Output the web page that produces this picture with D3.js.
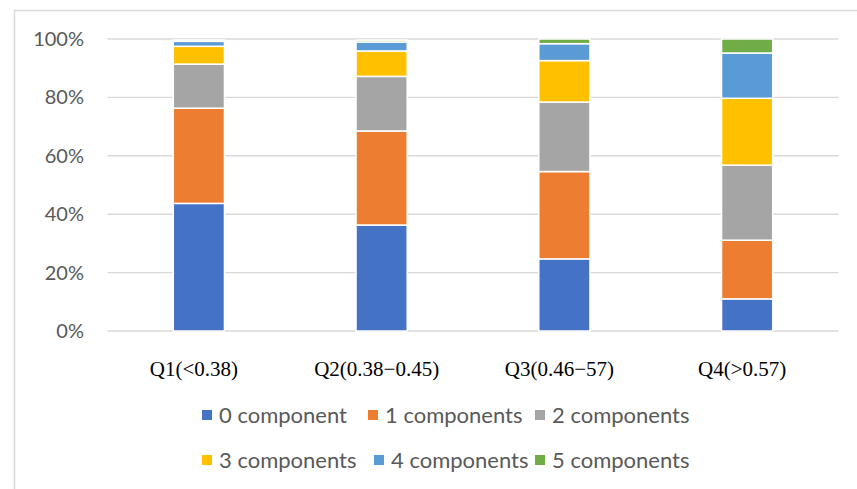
<!DOCTYPE html>
<html>
<head>
<meta charset="utf-8">
<script src="https://cdn.jsdelivr.net/npm/d3@7"></script>
<style>
  html, body { margin: 0; padding: 0; background: #fff; }
  svg { display: block; }
</style>
</head>
<body>
<div id="chart"></div>
<script>
// Quartile groups along the x axis
const categories = ["Q1(<0.38)", "Q2(0.38\u22120.45)", "Q3(0.46\u221257)", "Q4(>0.57)"];

// Share (%) of each group by number of components
const seriesNames = ["0 component", "1 components", "2 components", "3 components", "4 components", "5 components"];
const comp0 = [43.7, 36.3, 24.7, 11.0];
const comp1 = [32.6, 32.2, 29.9, 20.1];
const comp2 = [15.1, 18.7, 23.8, 25.7];
const comp3 = [6.1, 8.7, 14.2, 22.9];
const comp4 = [1.7, 3.1, 5.8, 15.5];
const comp5 = [0.5, 0.6, 1.6, 4.8];
const seriesColors = ["#4472C4", "#ED7D31", "#A5A5A5", "#FFC000", "#5B9BD5", "#70AD47"];

// Axis ticks
const yTicks = [0, 20, 40, 60, 80, 100];

const W = 857, H = 489;
const seriesValues = [comp0, comp1, comp2, comp3, comp4, comp5];

// Rows for d3.stack
const rows = categories.map((c, i) => {
  const r = { cat: c };
  seriesNames.forEach((s, k) => { r[s] = seriesValues[k][i]; });
  return r;
});
const stacked = d3.stack().keys(seriesNames)(rows);

const svg = d3.select("#chart").append("svg")
  .attr("width", W).attr("height", H);

// Chart frame
svg.append("rect")
  .attr("x", 14.5).attr("y", 10.5)
  .attr("width", W + 20).attr("height", H + 20)
  .attr("fill", "none").attr("stroke", "#d9d9d9").attr("stroke-width", 1.5);

const x = d3.scaleBand().domain(categories)
  .range([107.5, 838.5]).paddingInner(0.72).paddingOuter(0.36);
const y = d3.scaleLinear().domain([0, 100]).range([331, 39]);

// Gridlines
svg.append("g").selectAll("line").data(yTicks).join("line")
  .attr("x1", 107.5).attr("x2", 838.5)
  .attr("y1", d => y(d)).attr("y2", d => y(d))
  .attr("stroke", "#d9d9d9").attr("stroke-width", 1.4);

// Y axis labels
const yAxis = svg.append("g").attr("transform", "translate(84,0)")
  .call(d3.axisLeft(y).tickValues(yTicks).tickFormat(d => d + "%").tickSize(0).tickPadding(0));
yAxis.select(".domain").remove();
yAxis.selectAll("text")
  .attr("font-family", "Lato, 'Open Sans', sans-serif")
  .attr("font-size", 20).attr("fill", "#595959");

// Stacked bars
svg.append("g").selectAll("g").data(stacked).join("g")
  .attr("fill", (d, i) => seriesColors[i])
  .selectAll("rect").data(d => d).join("rect")
  .attr("x", d => x(d.data.cat))
  .attr("width", x.bandwidth())
  .attr("y", d => y(d[1]))
  .attr("height", d => y(d[0]) - y(d[1]))
  .attr("stroke", "#fff").attr("stroke-width", 1.5);

// X axis labels
const xAxis = svg.append("g").attr("transform", "translate(-5,331)")
  .call(d3.axisBottom(x).tickSize(0).tickPadding(0));
xAxis.select(".domain").remove();
xAxis.selectAll("text")
  .attr("dy", null).attr("y", 45)
  .attr("font-family", "'Liberation Serif', 'Times New Roman', serif")
  .attr("font-size", 21).attr("fill", "#000");

// Legend: two rows of three entries
const legendX = [[202, 368, 535], [202, 374, 535]];
const legendY = [415, 460];
const legend = svg.append("g").selectAll("g").data(seriesNames).join("g")
  .attr("transform", (d, i) => `translate(${legendX[Math.floor(i / 3)][i % 3]},${legendY[Math.floor(i / 3)]})`);
legend.append("rect")
  .attr("x", 0).attr("y", -5).attr("width", 10).attr("height", 10)
  .attr("fill", (d, i) => seriesColors[i]);
legend.append("text")
  .attr("x", 17).attr("y", 8)
  .attr("font-family", "Lato, 'Open Sans', sans-serif")
  .attr("font-size", 22).attr("fill", "#595959")
  .text(d => d);
</script>
</body>
</html>
